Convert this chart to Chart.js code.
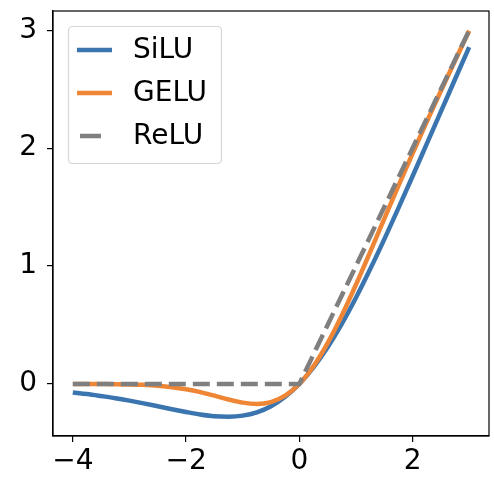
<!DOCTYPE html>
<html>
<head>
<meta charset="utf-8">
<script src="https://cdn.jsdelivr.net/npm/chart.js@4"></script>
<style>
  html, body { margin: 0; padding: 0; background: #fff; }
  canvas { display: block; }
</style>
</head>
<body>
<canvas id="actChart" width="494" height="477"></canvas>
<script>
// x samples and activation values
const xs = [-4, -3.75, -3.5, -3.25, -3, -2.75, -2.5, -2.25, -2, -1.75, -1.5, -1.25, -1, -0.75, -0.5, -0.25,
            0, 0.25, 0.5, 0.75, 1, 1.25, 1.5, 1.75, 2, 2.25, 2.5, 2.75, 3];
const siluVals = [-0.072, -0.086, -0.103, -0.121, -0.142, -0.165, -0.190, -0.215, -0.238, -0.259, -0.274, -0.278,
                  -0.269, -0.241, -0.189, -0.109, 0, 0.141, 0.311, 0.509, 0.731, 0.972, 1.226, 1.491, 1.762,
                  2.036, 2.310, 2.585, 2.858];
const geluVals = [-0.000, -0.000, -0.001, -0.002, -0.004, -0.008, -0.016, -0.028, -0.046, -0.070, -0.100, -0.132,
                  -0.159, -0.170, -0.154, -0.100, 0, 0.150, 0.346, 0.580, 0.841, 1.118, 1.400, 1.680, 1.955,
                  2.223, 2.485, 2.742, 2.996];
const reluX = [-4, 0, 3];
const reluVals = [0, 0, 3];
const xTicks = [-4, -2, 0, 2];
const yTicks = [0, 1, 2, 3];

const FONT = '"DejaVu Sans", sans-serif';
const pts = (x, y) => x.map((v, i) => ({ x: v, y: y[i] }));
const fmt = v => (v < 0 ? '\u2212' + Math.abs(v) : String(v));

const series = [
  { label: 'SiLU', data: pts(xs, siluVals), borderColor: '#3b75af', order: 3, cubicInterpolationMode: 'monotone' },
  { label: 'GELU', data: pts(xs, geluVals), borderColor: '#ef8636', order: 2, cubicInterpolationMode: 'monotone' },
  { label: 'ReLU', data: pts(reluX, reluVals), borderColor: '#7f7f7f', borderDash: [17, 7], order: 1 }
];

// spines on all four sides plus a matplotlib-like legend box inside the axes
const frame = {
  id: 'frame',
  afterDatasetsDraw(chart) {
    const { ctx, chartArea: a } = chart;
    ctx.save();
    // legend
    const lx = 68.5, ly = 26.5, lw = 153, lh = 137, r = 4;
    ctx.beginPath();
    ctx.roundRect(lx, ly, lw, lh, r);
    ctx.fillStyle = 'rgba(255,255,255,0.8)';
    ctx.fill();
    ctx.strokeStyle = '#d6d6d6';
    ctx.lineWidth = 1.2;
    ctx.stroke();
    ctx.font = '28px ' + FONT;
    ctx.textBaseline = 'middle';
    ctx.fillStyle = '#000';
    chart.data.datasets.forEach((d, i) => {
      const y = 50 + i * 43;
      ctx.beginPath();
      ctx.strokeStyle = d.borderColor;
      ctx.lineWidth = 4.5;
      ctx.lineCap = 'butt';
      if (d.borderDash) { ctx.moveTo(80, y); ctx.lineTo(101, y); }
      else { ctx.moveTo(77, y); ctx.lineTo(112, y); }
      ctx.stroke();
      ctx.fillText(d.label, 133, y + 1);
    });
    // spines
    ctx.strokeStyle = '#000';
    ctx.lineWidth = 1.2;
    ctx.strokeRect(a.left, a.top, a.right - a.left, a.bottom - a.top);
    ctx.restore();
  }
};

const ctx = document.getElementById('actChart').getContext('2d');
new Chart(ctx, {
  type: 'line',
  data: {
    datasets: series.map(s => Object.assign({
      borderWidth: 4.5, pointRadius: 0, fill: false, tension: 0, borderCapStyle: 'butt'
    }, s))
  },
  options: {
    responsive: false,
    devicePixelRatio: 1,
    animation: false,
    layout: { padding: { top: 11, right: 5, left: 0, bottom: 0 } },
    plugins: { legend: { display: false }, tooltip: { enabled: false } },
    scales: {
      x: {
        type: 'linear', min: -4.35, max: 3.35,
        afterBuildTicks: s => { s.ticks = xTicks.map(v => ({ value: v })); },
        afterFit: s => { s.height = 41; s.paddingLeft = 0; s.paddingRight = 0; },
        grid: { drawOnChartArea: false, drawTicks: true, tickLength: 6, color: '#000', lineWidth: 1.2 },
        border: { display: true, color: '#000', width: 1.2 },
        ticks: { color: '#000', font: { family: FONT, size: 28 }, padding: 3, maxRotation: 0, callback: fmt }
      },
      y: {
        type: 'linear', min: -0.442, max: 3.164,
        afterBuildTicks: s => { s.ticks = yTicks.map(v => ({ value: v })); },
        afterFit: s => { s.width = 53; s.paddingTop = 0; s.paddingBottom = 0; },
        grid: { drawOnChartArea: false, drawTicks: true, tickLength: 6, color: '#000', lineWidth: 1.2 },
        border: { display: true, color: '#000', width: 1.2 },
        ticks: { color: '#000', font: { family: FONT, size: 28 }, padding: 10, callback: fmt }
      }
    }
  },
  plugins: [frame]
});
</script>
</body>
</html>
